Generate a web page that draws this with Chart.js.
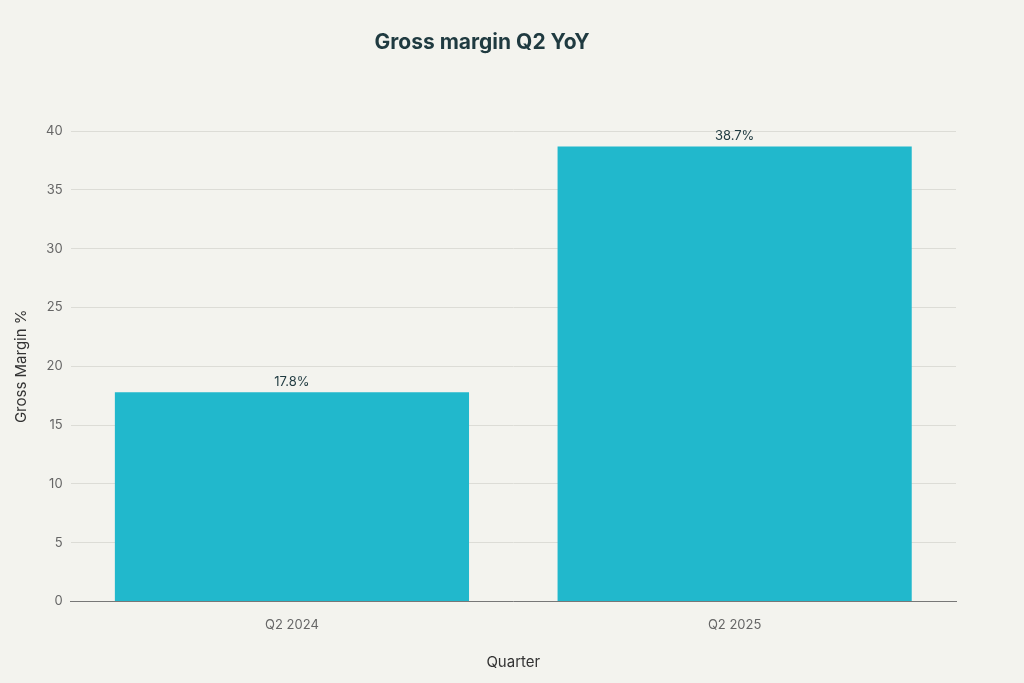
<!DOCTYPE html>
<html>
<head>
<meta charset="utf-8">
<script src="https://cdn.jsdelivr.net/npm/chart.js@4"></script>
<style>
  html, body { margin: 0; padding: 0; background: #f3f3ee; }
  #wrap { width: 1024px; height: 683px; }
</style>
</head>
<body>
<div id="wrap"><canvas id="chart"></canvas></div>
<script>
const quarters = ['Q2 2024', 'Q2 2025'];
const grossMargin = [17.8, 38.7];

/* ── Value labels above bars ───────────────────────── */
const barLabels = {
  id: 'barLabels',
  afterDatasetsDraw(chart) {
    const { ctx } = chart;
    const meta = chart.getDatasetMeta(0);
    ctx.save();
    ctx.font = '13px Inter, "Open Sans", sans-serif';
    ctx.fillStyle = '#1f3a40';
    ctx.textAlign = 'center';
    ctx.textBaseline = 'bottom';
    meta.data.forEach((bar, i) => {
      ctx.fillText(grossMargin[i].toFixed(1) + '%', bar.x, bar.y - 4);
    });
    ctx.restore();
  }
};

new Chart(document.getElementById('chart'), {
  type: 'bar',
  data: {
    labels: quarters,
    datasets: [{
      data: grossMargin,
      backgroundColor: '#21b8cc',
      barPercentage: 0.8,
      categoryPercentage: 1.0
    }]
  },
  options: {
    responsive: true, maintainAspectRatio: false, animation: false,
    layout: { padding: { left: 8, right: 68, bottom: 8 } },
    plugins: {
      legend: { display: false },
      tooltip: { enabled: false },
      title: {
        display: true, text: 'Gross margin Q2 YoY', color: '#1f3a40',
        font: { family: 'Inter, "Open Sans", sans-serif', size: 21, weight: 'bold' },
        padding: { top: 30, bottom: 76 }
      }
    },
    scales: {
      x: {
        grid: { display: false },
        border: { color: '#777', width: 1 },
        ticks: { color: '#666', font: { family: 'Inter, sans-serif', size: 13 }, padding: 8 },
        title: { display: true, text: 'Quarter', color: '#333', font: { family: 'Inter, sans-serif', size: 15 }, padding: { top: 12 } }
      },
      y: {
        min: 0, max: 40,
        grid: { color: '#dcdcd6', drawTicks: false },
        border: { display: false },
        ticks: { stepSize: 5, color: '#666', font: { family: 'Inter, sans-serif', size: 13 }, padding: 8 },
        title: { display: true, text: 'Gross Margin %', color: '#333', font: { family: 'Inter, sans-serif', size: 15 }, padding: { bottom: 8 } }
      }
    }
  },
  plugins: [barLabels]
});
</script>
</body>
</html>
